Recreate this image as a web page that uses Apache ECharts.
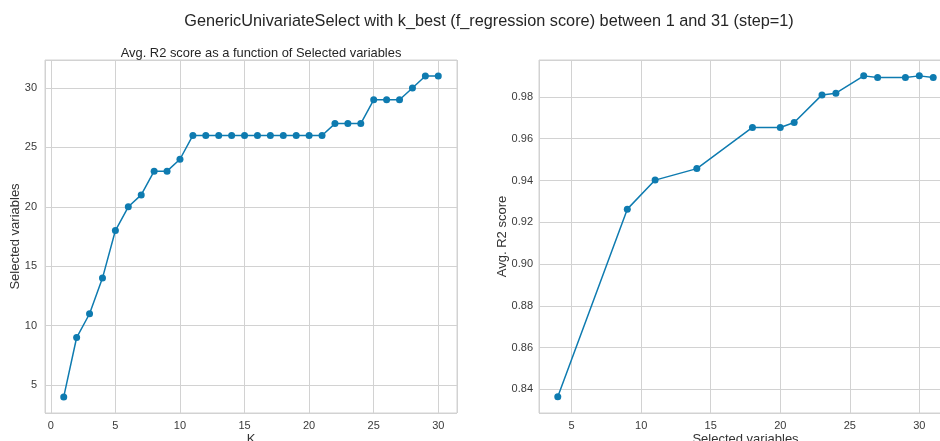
<!DOCTYPE html>
<html>
<head>
<meta charset="utf-8">
<script src="https://cdn.jsdelivr.net/npm/echarts@6/dist/echarts.min.js"></script>
<style>
html,body{margin:0;padding:0;background:#fff;}
#chart{width:940px;height:441px;}
</style>
</head>
<body>
<div id="chart"></div>
<script>
// Left subplot: K vs number of selected variables
const kValues = [1,2,3,4,5,6,7,8,9,10,11,12,13,14,15,16,17,18,19,20,21,22,23,24,25,26,27,28,29,30];
const selectedVars = [4,9,11,14,18,20,21,23,23,24,26,26,26,26,26,26,26,26,26,26,26,27,27,27,29,29,29,30,31,31];
// Right subplot: selected variables vs avg R2 score
const rightSelected = [4,9,11,14,18,20,21,23,24,26,27,29,30,31];
const avgR2 = [0.8365,0.9263,0.9402,0.9457,0.9654,0.9654,0.9678,0.9810,0.9818,0.9901,0.9893,0.9893,0.9901,0.9893];

const mainTitle = 'GenericUnivariateSelect with k_best (f_regression score) between 1 and 31 (step=1)';
const subTitle = 'Avg. R2 score as a function of Selected variables';

const lineColor = '#0e7bb0';
const gridColor = '#d2d2d2';
const textColor = '#3a3a3a';
const font = 'Liberation Sans, Arial, sans-serif';

function axisCommon(extra) {
  return Object.assign({
    type: 'value',
    axisLine: {show: false},
    axisTick: {show: false},
    splitLine: {show: true, lineStyle: {color: gridColor, width: 1}},
    nameLocation: 'middle',
    nameMoveOverlap: false,
    nameTextStyle: {color: '#333', fontSize: 13, fontFamily: font}
  }, extra);
}
function labels(margin, fmt) {
  const o = {color: textColor, fontSize: 11, fontFamily: font, margin: margin, showMinLabel: false, showMaxLabel: false};
  if (fmt) o.formatter = fmt;
  return o;
}

const chart = echarts.init(document.getElementById('chart'), null, {renderer: 'canvas'});
chart.setOption({
  animation: false,
  backgroundColor: '#fff',
  title: [
    {text: mainTitle, left: 484, textAlign: 'center', top: 9, textStyle: {fontSize: 16.3, fontWeight: 'normal', color: '#262626', fontFamily: font}},
    {text: subTitle, left: 256, textAlign: 'center', top: 42, textStyle: {fontSize: 12.9, fontWeight: 'normal', color: '#262626', fontFamily: font}}
  ],
  grid: [
    {left: 45, top: 60, width: 412, height: 353, show: true, borderColor: gridColor, borderWidth: 1, backgroundColor: '#fff', outerBoundsMode: 'none', containLabel: false},
    {left: 539, top: 60, width: 413, height: 353, show: true, borderColor: gridColor, borderWidth: 1, backgroundColor: '#fff', outerBoundsMode: 'none', containLabel: false}
  ],
  xAxis: [
    axisCommon({gridIndex: 0, min: -0.45, max: 31.45, name: 'K', nameGap: 20, axisLabel: labels(7)}),
    axisCommon({gridIndex: 1, min: 2.65, max: 32.35, name: 'Selected variables', nameGap: 20, axisLabel: labels(7)})
  ],
  yAxis: [
    axisCommon({gridIndex: 0, min: 2.65, max: 32.35, name: 'Selected variables', nameGap: 23, axisLabel: labels(8)}),
    axisCommon({gridIndex: 1, min: 0.8287, max: 0.9977, splitNumber: 8, name: 'Avg. R2 score', nameGap: 30,
      axisLabel: labels(6, v => v.toFixed(2))})
  ],
  series: [
    {type: 'line', xAxisIndex: 0, yAxisIndex: 0, data: kValues.map((k, i) => [k, selectedVars[i]]),
      symbol: 'circle', symbolSize: 7, lineStyle: {color: lineColor, width: 1.5}, itemStyle: {color: lineColor}},
    {type: 'line', xAxisIndex: 1, yAxisIndex: 1, data: rightSelected.map((s, i) => [s, avgR2[i]]),
      symbol: 'circle', symbolSize: 7, lineStyle: {color: lineColor, width: 1.5}, itemStyle: {color: lineColor}}
  ]
});
</script>
</body>
</html>
